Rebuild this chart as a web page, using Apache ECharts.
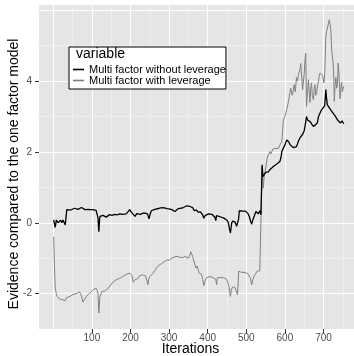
<!DOCTYPE html>
<html>
<head>
<meta charset="utf-8">
<script src="https://cdn.jsdelivr.net/npm/echarts@6/dist/echarts.min.js"></script>
<style>
  html, body { margin: 0; padding: 0; background: #fff; }
  #chart { width: 354px; height: 356px; }
</style>
</head>
<body>
<div id="chart"></div>
<script>
// [iteration, evidence]
const withoutLeverage = [
  [1,0.08],[5,-0.13],[8,0.08],[12,0.0],[15,0.03],[19,0.07],[22,0.0],[25,0.08],[28,0.11],[31,-0.06],
  [35,0.37],[40,0.40],[45,0.36],[50,0.38],[55,0.41],[60,0.36],[64,0.38],[68,0.34],[73,0.43],[78,0.39],
  [82,0.37],[86,0.40],[90,0.38],[96,0.37],[103,0.37],[108,0.36],[111,0.35],[115,0.3],[116,0.13],[118,-0.25],
  [120,0.1],[121,0.18],[125,0.2],[129,0.21],[133,0.18],[137,0.16],[142,0.21],[146,0.23],[152,0.21],[159,0.24],
  [165,0.22],[172,0.25],[180,0.24],[189,0.25],[194,0.3],[198,0.37],[202,0.3],[206,0.27],[212,0.18],[216,0.26],
  [219,0.27],[225,0.24],[230,0.21],[235,0.28],[239,0.32],[244,0.25],[248,0.11],[251,0.25],[254,0.34],[259,0.34],
  [263,0.38],[268,0.41],[275,0.41],[281,0.43],[288,0.42],[294,0.40],[300,0.39],[307,0.37],[312,0.35],[315,0.32],
  [320,0.36],[324,0.40],[330,0.41],[337,0.43],[342,0.46],[346,0.48],[350,0.47],[354,0.46],[358,0.44],[361,0.43],
  [365,0.34],[368,0.38],[371,0.36],[375,0.30],[378,0.27],[381,0.31],[384,0.3],[387,0.22],[390,0.13],[393,0.2],
  [397,0.23],[402,0.25],[406,0.27],[411,0.24],[416,0.21],[419,0.15],[421,0.06],[423,0.2],[427,0.18],[432,0.17],
  [437,0.15],[442,0.13],[446,0.1],[449,0.08],[453,0.02],[456,-0.15],[459,-0.29],[462,-0.01],[465,0.05],[468,0.1],
  [471,0.02],[475,-0.1],[478,-0.15],[480,0.1],[482,0.34],[486,0.37],[490,0.33],[494,0.3],[498,0.33],[501,0.32],
  [505,0.25],[508,0.17],[511,0.05],[514,-0.04],[517,0.08],[520,0.17],[525,0.32],[528,0.28],[531,0.25],[535,0.34],
  [538,0.23],[540,0.25],[541,1.64],[543,1.3],[546,1.36],[550,1.42],[553,1.45],[557,1.44],[561,1.50],[565,1.53],
  [570,1.59],[575,1.6],[579,1.66],[583,1.70],[587,1.73],[590,1.85],[592,2.01],[596,2.06],[600,2.2],[605,2.34],
  [610,2.28],[614,2.2],[618,2.16],[622,2.12],[626,2.09],[630,2.15],[635,2.3],[639,2.4],[643,2.45],[646,2.5],
  [650,2.6],[652,2.65],[654,2.85],[656,3.0],[659,2.9],[662,2.95],[666,2.85],[670,2.78],[674,2.72],[678,2.75],
  [684,2.82],[687,3.0],[691,3.1],[695,3.19],[700,3.2],[703,3.3],[706,3.76],[708,3.5],[710,3.33],[715,3.28],
  [721,3.15],[725,3.1],[730,3.02],[734,2.95],[738,2.88],[741,2.9],[744,2.82],[748,2.88],[751,2.82],[753,2.8]
];

const withLeverage = [
  [1,-0.39],[3,-1.2],[5,-1.85],[8,-2.0],[10,-2.08],[13,-2.12],[16,-2.15],[20,-2.18],[23,-2.17],[27,-2.13],
  [31,-2.2],[34,-2.12],[38,-2.14],[43,-2.08],[47,-2.1],[51,-2.03],[56,-2.05],[62,-1.99],[66,-2.0],[68,-1.95],
  [72,-2.03],[75,-2.15],[77,-2.24],[80,-2.18],[86,-2.08],[90,-2.03],[94,-1.99],[99,-1.95],[103,-1.89],[107,-1.87],
  [111,-1.85],[114,-1.92],[116,-2.03],[118,-2.55],[120,-2.2],[121,-2.08],[126,-1.94],[130,-1.96],[133,-1.93],[137,-1.9],
  [142,-1.85],[146,-1.8],[149,-1.75],[152,-1.72],[155,-1.67],[159,-1.65],[163,-1.61],[168,-1.59],[172,-1.57],[177,-1.55],
  [181,-1.51],[185,-1.5],[189,-1.46],[194,-1.44],[198,-1.42],[201,-1.38],[204,-1.5],[207,-1.68],[209,-1.7],[212,-1.6],
  [214,-1.55],[219,-1.58],[223,-1.5],[228,-1.48],[232,-1.47],[236,-1.52],[239,-1.5],[243,-1.65],[245,-1.75],[247,-1.6],
  [250,-1.52],[255,-1.49],[259,-1.42],[263,-1.35],[268,-1.26],[274,-1.2],[281,-1.15],[287,-1.1],[294,-1.05],[300,-1.06],
  [307,-1.0],[312,-1.03],[318,-0.95],[323,-0.98],[328,-0.97],[334,-0.99],[341,-0.95],[346,-0.98],[350,-1.0],[354,-0.9],
  [356,-0.82],[358,-0.81],[361,-0.95],[363,-1.0],[367,-1.19],[370,-1.28],[373,-1.22],[376,-1.35],[378,-1.42],[381,-1.45],
  [384,-1.45],[387,-1.6],[390,-1.77],[393,-1.65],[397,-1.55],[402,-1.54],[406,-1.52],[410,-1.5],[414,-1.55],[418,-1.58],
  [421,-1.6],[423,-1.75],[425,-1.55],[427,-1.52],[432,-1.55],[437,-1.56],[441,-1.55],[445,-1.58],[449,-1.6],[452,-1.68],
  [455,-1.8],[457,-1.95],[459,-2.08],[461,-1.9],[464,-1.82],[467,-1.8],[470,-1.82],[472,-1.82],[475,-1.95],[477,-2.03],
  [479,-1.7],[480,-1.37],[484,-1.38],[488,-1.4],[492,-1.42],[497,-1.4],[501,-1.43],[505,-1.45],[508,-1.47],[511,-1.58],
  [514,-1.75],[517,-1.6],[521,-1.49],[525,-1.42],[529,-1.36],[532,-1.31],[535,-1.36],[538,-1.35],[540,-1.35],[541,1.59],
  [544,0.98],[546,1.26],[548,1.21],[551,1.6],[554,1.83],[557,1.87],[561,2.01],[564,1.95],[566,2.01],[569,2.08],
  [572,2.11],[575,2.1],[579,2.05],[583,2.1],[585,2.15],[588,2.12],[592,2.3],[594,2.6],[596,2.9],[600,3.0],
  [605,3.2],[610,3.47],[613,3.5],[615,3.8],[619,3.6],[622,3.75],[624,3.9],[627,3.7],[630,4.1],[633,4.0],
  [635,4.18],[639,4.32],[641,4.5],[644,4.53],[646,3.76],[648,4.0],[650,4.2],[652,4.6],[654,4.79],[656,3.29],
  [658,3.6],[661,4.04],[663,3.7],[665,3.4],[667,3.8],[669,3.95],[671,3.6],[674,3.47],[676,3.8],[678,3.9],
  [680,3.6],[682,3.66],[685,3.9],[687,4.0],[689,4.15],[691,4.23],[694,4.2],[698,4.15],[701,3.95],[703,4.2],
  [706,5.26],[708,5.4],[710,5.5],[713,5.55],[715,5.73],[717,5.6],[719,5.46],[721,4.89],[723,4.7],[725,4.51],
  [727,4.0],[728,3.43],[730,3.9],[732,4.1],[734,3.8],[736,3.9],[738,4.51],[740,4.2],[743,3.5],[745,3.8],
  [747,3.97],[749,3.7],[751,3.8],[753,3.85]
];

const xTickLabels = [100, 200, 300, 400, 500, 600, 700];
const yTickLabels = [-2, 0, 2, 4];
const xMajorGrid = [0, 100, 200, 300, 400, 500, 600, 700];
const xMinorGrid = [50, 150, 250, 350, 450, 550, 650, 750];
const yMajorGrid = [-2, 0, 2, 4, 6];
const yMinorGrid = [-1, 1, 3, 5];

const font = "Liberation Sans, Arial, Helvetica, sans-serif";

const chart = echarts.init(document.getElementById('chart'));

// ggplot style panel grid, drawn as mark lines
const minorStyle = { color: '#f4f4f4', width: 0.6, type: 'solid' };
const majorStyle = { color: '#ffffff', width: 1.1, type: 'solid' };
const gridLines = [];
xMinorGrid.forEach(v => gridLines.push({ xAxis: v, lineStyle: minorStyle }));
yMinorGrid.forEach(v => gridLines.push({ yAxis: v, lineStyle: minorStyle }));
xMajorGrid.forEach(v => gridLines.push({ xAxis: v, lineStyle: majorStyle }));
yMajorGrid.forEach(v => gridLines.push({ yAxis: v, lineStyle: majorStyle }));

const option = {
  animation: false,
  textStyle: { fontFamily: font },
  title: {
    text: 'variable',
    left: 76,
    top: 47,
    z: 21,
    padding: 0,
    textStyle: { fontFamily: font, fontSize: 14, fontWeight: 'normal', color: '#000' }
  },
  legend: {
    data: ['Multi factor without leverage', 'Multi factor with leverage'],
    orient: 'vertical',
    z: 20,
    left: 69,
    top: 47,
    padding: [17, 0, 3, 4],
    itemGap: 0,
    itemWidth: 11,
    itemHeight: 12,
    icon: 'path://M0,5.2L11,5.2L11,6.8L0,6.8Z',
    backgroundColor: '#fff',
    borderColor: '#000',
    borderWidth: 1,
    borderRadius: 0,
    textStyle: { fontFamily: font, fontSize: 11, color: '#000' }
  },
  grid: {
    left: 39,
    right: 0,
    top: 5,
    bottom: 27,
    outerBoundsMode: 'none',
    show: true,
    backgroundColor: '#e5e5e5',
    borderWidth: 0
  },
  xAxis: {
    type: 'value',
    min: -37,
    max: 779,
    name: 'Iterations',
    nameLocation: 'middle',
    nameMoveOverlap: false,
    nameGap: 13,
    nameTextStyle: { fontFamily: font, fontSize: 14, color: '#000', padding: [0, 12, 0, 0] },
    axisLine: { show: false, onZero: false },
    splitLine: { show: false },
    axisTick: { show: true, customValues: xTickLabels, length: 4, lineStyle: { color: '#333' } },
    axisLabel: { customValues: xTickLabels, fontSize: 10, color: '#4d4d4d', margin: 4, fontFamily: font }
  },
  yAxis: {
    type: 'value',
    min: -3,
    max: 6.15,
    name: 'Evidence compared to the one factor model',
    nameLocation: 'middle',
    nameMoveOverlap: false,
    nameGap: 18,
    nameTextStyle: { fontFamily: font, fontSize: 14, color: '#000', padding: [0, 14, 0, 0] },
    axisLine: { show: false, onZero: false },
    splitLine: { show: false },
    axisTick: { show: true, customValues: yTickLabels, length: 4, lineStyle: { color: '#333' } },
    axisLabel: { customValues: yTickLabels, fontSize: 10, color: '#4d4d4d', margin: 7, fontFamily: font }
  },
  series: [
    {
      name: 'panel-grid',
      type: 'line',
      data: [],
      z: 1,
      silent: true,
      markLine: {
        silent: true,
        symbol: 'none',
        label: { show: false },
        animation: false,
        data: gridLines
      }
    },
    {
      name: 'Multi factor with leverage',
      type: 'line',
      data: withLeverage,
      showSymbol: false,
      color: '#808080',
      lineStyle: { color: '#808080', width: 1 },
      z: 10
    },
    {
      name: 'Multi factor without leverage',
      type: 'line',
      data: withoutLeverage,
      showSymbol: false,
      color: '#000000',
      lineStyle: { color: '#000000', width: 1.3 },
      z: 11
    }
  ]
};

chart.setOption(option);
</script>
</body>
</html>
